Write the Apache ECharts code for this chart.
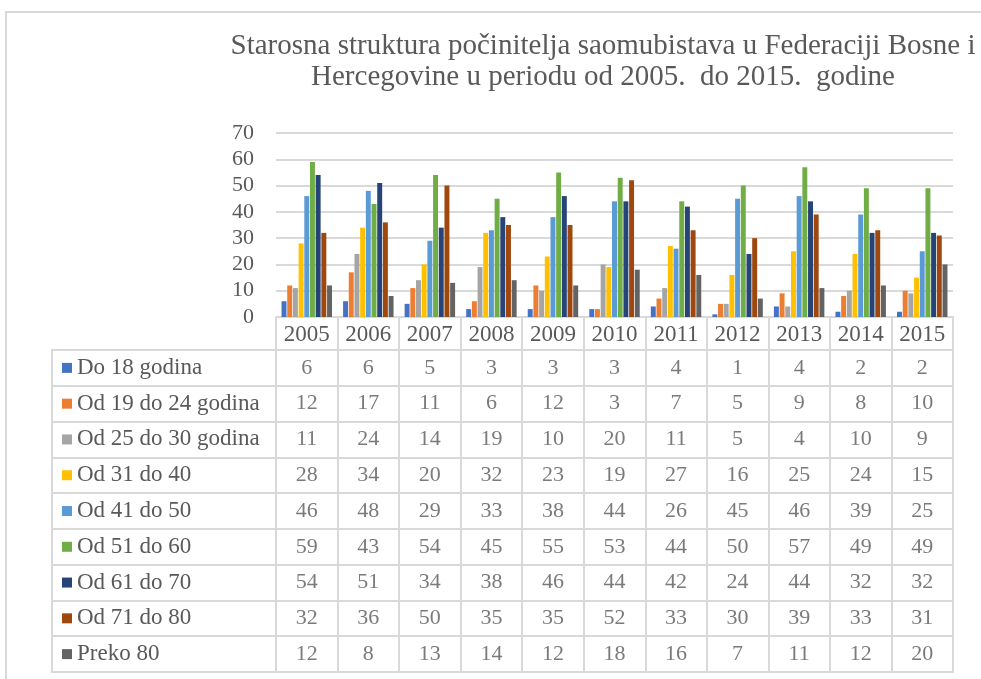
<!DOCTYPE html>
<html>
<head>
<meta charset="utf-8">
<script src="https://cdn.jsdelivr.net/npm/echarts@6/dist/echarts.min.js"></script>
<style>
html,body{margin:0;padding:0;background:#fff;}
#main{width:981px;height:679px;}
</style>
</head>
<body>
<div id="main"></div>
<script>
var years = ['2005','2006','2007','2008','2009','2010','2011','2012','2013','2014','2015'];
var seriesNames = ['Do 18 godina','Od 19 do 24 godina','Od 25 do 30 godina','Od 31 do 40','Od 41 do 50','Od 51 do 60','Od 61 do 70','Od 71 do 80','Preko 80'];
var do18 =     [6, 6, 5, 3, 3, 3, 4, 1, 4, 2, 2];
var od19_24 =  [12,17,11,6,12,3,7,5,9,8,10];
var od25_30 =  [11,24,14,19,10,20,11,5,4,10,9];
var od31_40 =  [28,34,20,32,23,19,27,16,25,24,15];
var od41_50 =  [46,48,29,33,38,44,26,45,46,39,25];
var od51_60 =  [59,43,54,45,55,53,44,50,57,49,49];
var od61_70 =  [54,51,34,38,46,44,42,24,44,32,32];
var od71_80 =  [32,36,50,35,35,52,33,30,39,33,31];
var preko80 =  [12,8,13,14,12,18,16,7,11,12,20];
var yTicks = {min:0, max:70, interval:10};
var titleText = 'Starosna struktura počinitelja saomubistava u Federaciji Bosne i\nHercegovine u periodu od 2005.  do 2015.  godine';

var values = [do18, od19_24, od25_30, od31_40, od41_50, od51_60, od61_70, od71_80, preko80];
var colors = ['#4472C4','#ED7D31','#A5A5A5','#FFC000','#5B9BD5','#70AD47','#264478','#9E480E','#636363'];
var FONT = '"Liberation Serif","Times New Roman",serif';
var TXT = '#595959';
var LINE = '#d9d9d9';

var chart = echarts.init(document.getElementById('main'), null, {renderer:'canvas'});

var barSeries = seriesNames.map(function(n, i){
  return {
    name: n, type: 'bar', xAxisIndex: 0, yAxisIndex: 0,
    data: values[i],
    barGap: '15%', barCategoryGap: '18%',
    itemStyle: {color: colors[i]},
    emphasis: {disabled: true},
    animation: false
  };
});

var cellData = [];
values.forEach(function(arr, i){
  arr.forEach(function(v, j){ cellData.push([j, i, v]); });
});

var rich = {};
colors.forEach(function(c, i){
  rich['s'+i] = {backgroundColor: c, width: 10, height: 10};
  rich['t'+i] = {fontFamily: FONT, fontSize: 23, color: TXT, padding: [0,0,0,5]};
});

var option = {
  animation: false,
  backgroundColor: '#fff',
  title: {
    text: titleText,
    left: 598, top: 26, textAlign: 'center',
    textStyle: {fontFamily: FONT, fontSize: 29, fontWeight: 'normal', color: TXT, lineHeight: 31}
  },
  graphic: [{
    type: 'rect', shape: {x: 6, y: 12, width: 1000, height: 700},
    style: {fill: 'none', stroke: LINE, lineWidth: 2}, silent: true, z: -10
  }],
  grid: [
    {left: 276, right: 28, top: 133, height: 184, containLabel: false},
    {left: 276, right: 28, top: 350, bottom: 7, show: true, borderColor: LINE, borderWidth: 2},
    {left: 52, width: 224, top: 350, bottom: 7, show: true, borderColor: LINE, borderWidth: 2}
  ],
  xAxis: [
    {gridIndex: 0, type: 'category', data: years,
     axisLine: {show: true, lineStyle: {color: LINE, width: 2}},
     axisTick: {show: true, length: 33, lineStyle: {color: LINE, width: 2}},
     axisLabel: {fontFamily: FONT, fontSize: 23, color: TXT, margin: 6}},
    {gridIndex: 1, type: 'category', data: years,
     axisLine: {show: false}, axisTick: {show: false}, axisLabel: {show: false},
     splitLine: {show: true, lineStyle: {color: LINE, width: 2}}},
    {gridIndex: 2, type: 'value', show: false}
  ],
  yAxis: [
    {gridIndex: 0, type: 'value', min: yTicks.min, max: yTicks.max, interval: yTicks.interval,
     axisLine: {show: false}, axisTick: {show: false},
     axisLabel: {fontFamily: FONT, fontSize: 22, color: TXT, margin: 22},
     splitLine: {show: true, lineStyle: {color: LINE, width: 2}}},
    {gridIndex: 1, type: 'category', data: seriesNames, inverse: true,
     axisLine: {show: false}, axisTick: {show: false}, axisLabel: {show: false},
     splitLine: {show: true, lineStyle: {color: LINE, width: 2}}},
    {gridIndex: 2, type: 'category', data: seriesNames, inverse: true,
     axisLine: {show: false}, axisTick: {show: false},
     axisLabel: {inside: true, align: 'left', margin: 10,
       formatter: function(v, idx){ return '{s'+idx+'|}{t'+idx+'|'+v+'}'; },
       rich: rich},
     splitLine: {show: true, lineStyle: {color: LINE, width: 2}}}
  ],
  series: barSeries.concat([{
    type: 'scatter', xAxisIndex: 1, yAxisIndex: 1,
    data: cellData, symbolSize: 1,
    itemStyle: {color: 'rgba(0,0,0,0)'},
    label: {show: true, position: 'inside', formatter: function(p){ return p.value[2]; },
      fontFamily: FONT, fontSize: 22, color: TXT},
    emphasis: {disabled: true}, silent: true
  }])
};
chart.setOption(option);
</script>
</body>
</html>
